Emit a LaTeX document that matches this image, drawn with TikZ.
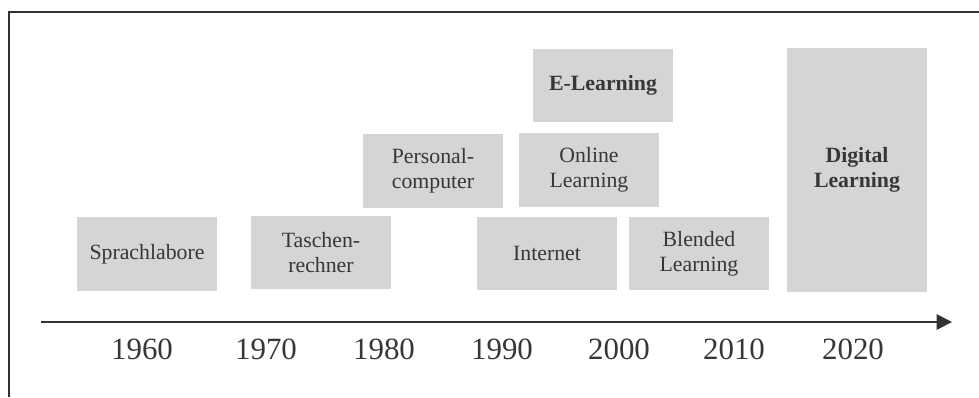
\documentclass[tikz,border=0pt]{standalone}
\usepackage{fontspec}
\setmainfont{Liberation Serif}
\usetikzlibrary{arrows.meta}

\definecolor{cor_box}{RGB}{213,213,213}
\definecolor{cor_text}{RGB}{55,55,55}
\definecolor{cor_line}{RGB}{50,50,50}

\begin{document}
\begin{tikzpicture}[x=0.025cm, y=-0.025cm]
        \tikzset{
            feld/.style={
                fill=cor_box,
                text=cor_text,
                align=center,
                inner sep=0pt,
                minimum width=3.5cm,
                minimum height=#1,
                font=\fontsize{15.5}{17.5}\selectfont
            },
            jahr/.style={
                text=cor_text,
                inner sep=0pt,
                font=\fontsize{22}{24}\selectfont
            }
        }
        \useasboundingbox (0,0) rectangle (979,397);

        % rahmen
        \draw[cor_line, line width=1.4pt] (9,397) -- (9,12) -- (979,12);

        % felder
        \node[feld=1.85cm] (sprach) at (147,254) {Sprachlabore};
        \node[feld=1.83cm] (tasch) at (321,252.5) {Taschen-\\rechner};
        \node[feld=1.85cm] (pc) at (433,171) {Personal-\\computer};
        \node[feld=1.83cm] (elearn) at (603,85.5) {\textbf{E-Learning}};
        \node[feld=1.85cm] (online) at (589,170) {Online\\Learning};
        \node[feld=1.83cm] (inet) at (547,253.5) {Internet};
        \node[feld=1.83cm] (blend) at (699,253.5) {Blended\\Learning};
        \node[feld=6.1cm] (digital) at (857,170) {\textbf{Digital}\\\textbf{Learning}};

        % zeitachse
        \coordinate (start) at (41,322);
        \coordinate (ende) at (952,322);
        \draw[cor_line, line width=1.2pt, -{Triangle[length=11pt,width=11pt]}] (start) -- (ende);

        \node[jahr] (j1960) at (142,349) {1960};
        \node[jahr] (j1970) at (266,349) {1970};
        \node[jahr] (j1980) at (384,349) {1980};
        \node[jahr] (j1990) at (502,349) {1990};
        \node[jahr] (j2000) at (619,349) {2000};
        \node[jahr] (j2010) at (734,349) {2010};
        \node[jahr] (j2020) at (853,349) {2020};

    \end{tikzpicture}
\end{document}
